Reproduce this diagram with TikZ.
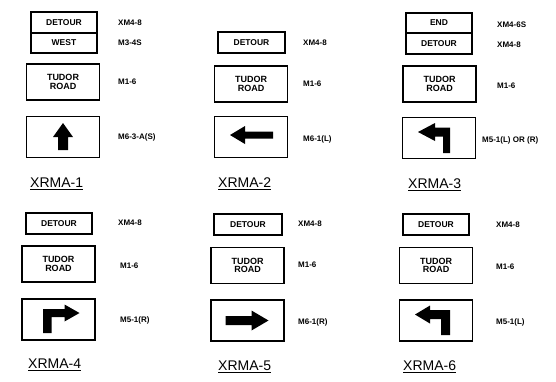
\documentclass[tikz,border=0pt]{standalone}
\usepackage{fontspec}
\setmainfont{Liberation Sans}
\usetikzlibrary{positioning}
\tikzset{
  plate/.style={draw, line width=1.6pt, outer sep=0pt, inner sep=0pt, minimum width=66pt, minimum height=20.5pt, font=\fontsize{8.5}{8}\selectfont\bfseries},
  roadbox/.style={plate, minimum width=73pt, minimum height=36pt, align=center, font=\fontsize{9}{8.5}\selectfont\bfseries},
  arrowbox/.style={plate, minimum width=73pt, minimum height=41pt},
  code/.style={anchor=west, inner sep=0pt, font=\fontsize{8}{8}\selectfont\bfseries},
  caption/.style={anchor=base west, inner sep=0pt, font=\fontsize{14}{14}\selectfont},
  signarrow/.style={fill=black}
}

\begin{document}
\begin{tikzpicture}[x=1pt, y=-1pt]
\useasboundingbox (0,0) rectangle (556,381);
% top plates
\node[plate] (p1) at (64,22.5) {DETOUR};
\node[plate, below=0pt of p1] (q1) {WEST};
\node[plate, minimum width=67pt] (p2) at (251.5,42.5) {DETOUR};
\node[plate] (p3) at (439,23) {END};
\node[plate, below=0pt of p3] (q3) {DETOUR};
\node[plate] (p4) at (59,223.5) {DETOUR};
\node[plate, minimum width=68pt] (p5) at (248,224.5) {DETOUR};
\node[plate] (p6) at (436,224.5) {DETOUR};
% route boxes
\foreach \n/\x/\y in {r1/63/82, r2/251/84, r3/439.5/84, r4/58.5/264, r5/247.5/265.5, r6/436/265.5}
  \node[roadbox] (\n) at (\x,\y) {TUDOR\\ROAD};
% arrow boxes
\foreach \n/\x/\y in {a1/63/137, a2/251/137, a3/439/138, a4/58.5/319.5, a5/247.5/320.5, a6/436/320.5}
  \node[arrowbox] (\n) at (\x,\y) {};
\begin{scope}[shift={(a1.center)}]
  \fill[signarrow] (0,-14) -- (10,0) -- (5,0) -- (5,13) -- (-5,13) -- (-5,0) -- (-10,0) -- cycle;
\end{scope}
\begin{scope}[shift={(a2.center)}]
  \fill[signarrow] (-21,-2) -- (-6,-11) -- (-6,-5.5) -- (22,-5.5) -- (22,1.5) -- (-6,1.5) -- (-6,7) -- cycle;
\end{scope}
\begin{scope}[shift={(a3.center)}]
  \fill[signarrow] (-21,-6) -- (-4,-15) -- (-4,-10.5) -- (11,-10.5) -- (11,15) -- (4,15) -- (4,-1.5) -- (-4,-1.5) -- (-4,3) -- cycle;
\end{scope}
\begin{scope}[shift={(a4.center)}]
  \fill[signarrow] (-15.5,13.5) -- (-15.5,-10.5) -- (6,-10.5) -- (6,-15) -- (21,-6.5) -- (6,2) -- (6,-2.5) -- (-7,-2.5) -- (-7,13.5) -- cycle;
\end{scope}
\begin{scope}[shift={(a5.center)}]
  \fill[signarrow] (-22,-4.5) -- (4,-4.5) -- (4,-10) -- (21,0) -- (4,10) -- (4,4.5) -- (-22,4.5) -- cycle;
\end{scope}
\begin{scope}[shift={(a6.center)}]
  \fill[signarrow] (-21,-6) -- (-6,-15) -- (-6,-10.5) -- (14,-10.5) -- (14,14.5) -- (5,14.5) -- (5,-1.5) -- (-6,-1.5) -- (-6,3) -- cycle;
\end{scope}
% sign codes
\node[code] (c1a) at (118,23) {XM4-8};
\node[code] (c1b) at (118,43) {M3-4S};
\node[code] (c1c) at (118,82) {M1-6};
\node[code] (c1d) at (118,137) {M6-3-A(S)};
\node[code] (c2a) at (303,43) {XM4-8};
\node[code] (c2b) at (303,84) {M1-6};
\node[code] (c2c) at (303,139) {M6-1(L)};
\node[code] (c3a) at (497,25) {XM4-6S};
\node[code] (c3b) at (497,45) {XM4-8};
\node[code] (c3c) at (497,86) {M1-6};
\node[code] (c3d) at (482,140) {M5-1(L) OR (R)};
\node[code] (c4a) at (118,223) {XM4-8};
\node[code] (c4b) at (120,266) {M1-6};
\node[code] (c4c) at (120,320) {M5-1(R)};
\node[code] (c5a) at (298,224) {XM4-8};
\node[code] (c5b) at (298,265) {M1-6};
\node[code] (c5c) at (298,322) {M6-1(R)};
\node[code] (c6a) at (496,225) {XM4-8};
\node[code] (c6b) at (496,267) {M1-6};
\node[code] (c6c) at (496,322) {M5-1(L)};
% panel names
\node[caption] (t1) at (30,187) {XRMA-1};
\node[caption] (t2) at (218,187) {XRMA-2};
\node[caption] (t3) at (408,188) {XRMA-3};
\node[caption] (t4) at (28,368) {XRMA-4};
\node[caption] (t5) at (218,370) {XRMA-5};
\node[caption] (t6) at (403,370) {XRMA-6};
\foreach \t in {t1,t2,t3,t4,t5,t6}
  \draw[line width=1pt] ([yshift=-2.2pt]\t.base west) -- ([yshift=-2.2pt]\t.base east);
\end{tikzpicture}
\end{document}
